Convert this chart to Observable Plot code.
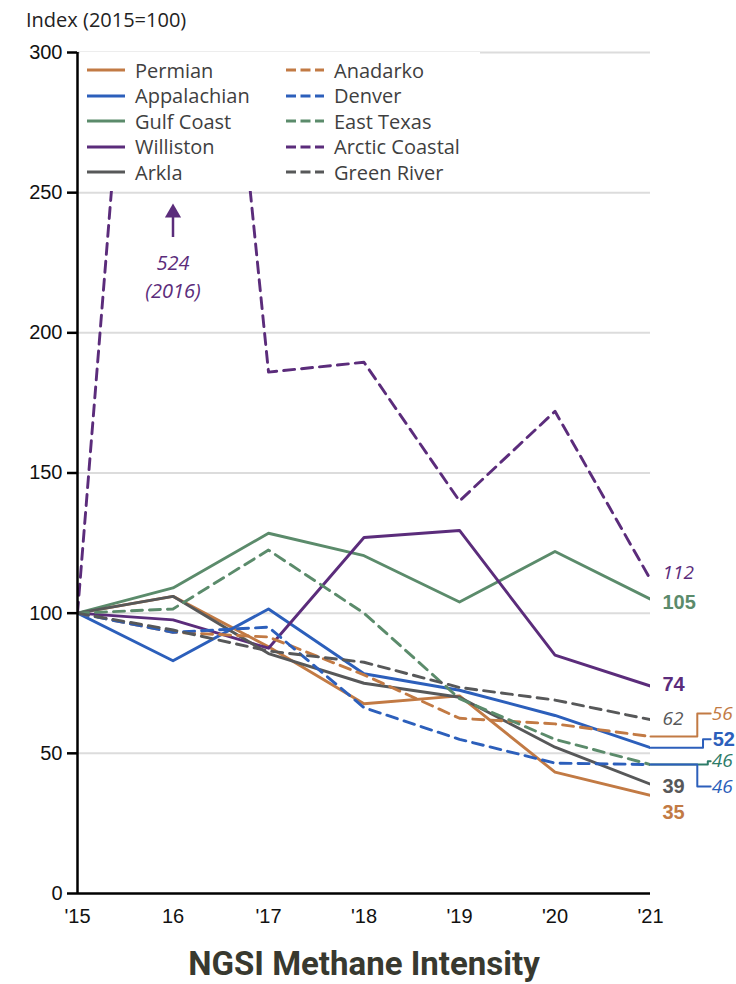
<!DOCTYPE html>
<html><head><meta charset="utf-8">
<script src="https://cdn.jsdelivr.net/npm/d3@7"></script>
<script src="https://cdn.jsdelivr.net/npm/@observablehq/plot@0.6"></script>
<style>
body{margin:0;background:#fff;width:736px;height:984px;position:relative;overflow:hidden;font-family:"Open Sans",sans-serif}
#chart{position:absolute;left:0;top:0}
#ylabel{position:absolute;left:26px;top:6px;font-size:20px;line-height:28px;color:#222}
#legend{position:absolute;left:80px;top:52px;width:400px;height:139px;background:#fff}
.lrow{position:absolute;height:26px;display:flex;align-items:center;font-size:20px;color:#3f3f3f;white-space:nowrap}
.lrow svg{margin-right:10px}
#title{position:absolute;left:0;top:945px;width:728px;text-align:center;font:700 33px Roboto,sans-serif;line-height:38px;color:#38392f}
</style></head>
<body>
<div id="chart"></div>
<div id="ylabel">Index (2015=100)</div>
<div id="legend"></div>
<div id="title">NGSI Methane Intensity</div>
<script>
const years = [2015, 2016, 2017, 2018, 2019, 2020, 2021];
const tickLabels = ["'15", "16", "'17", "'18", "'19", "'20", "'21"];
const yTicks = [0, 50, 100, 150, 200, 250, 300];
const basins = ["Permian", "Appalachian", "Gulf Coast", "Williston", "Arkla", "Anadarko", "Denver", "East Texas", "Arctic Coastal", "Green River"];
const permian       = [100, 106, 88, 67.7, 70.5, 43.3, 35];
const appalachian   = [100, 83, 101.5, 78.4, 72.5, 63.5, 52];
const gulfCoast     = [100, 109, 128.5, 120.5, 104, 122, 105];
const williston     = [100, 97.6, 87.5, 127, 129.5, 85, 74];
const arkla         = [100, 106, 85.6, 75, 70, 52.2, 39];
const anadarko      = [100, 93.2, 91.5, 78, 62.5, 60.5, 56];
const denver        = [100, 93.2, 95, 66.3, 55, 46.5, 46];
const eastTexas     = [100, 101.5, 122.5, 100, 69.5, 55, 46];
const arcticCoastal = [100, 524, 186, 189.5, 140, 172, 112];
const greenRiver    = [100, 94, 86.5, 82.5, 73.5, 69, 62];
const peakNote = {year: 2016, value: 524};

const values = [permian, appalachian, gulfCoast, williston, arkla, anadarko, denver, eastTexas, arcticCoastal, greenRiver];
const orange = "#c27a44", blue = "#2c5fbb", green = "#5b8b6b", purple = "#5b2c7b", gray = "#575859";
const colors = [orange, blue, green, purple, gray, orange, blue, green, purple, gray];
const dashed = [false, false, false, false, false, true, true, true, true, true];

// end labels: basin index, text, style
const endLabels = [
  {i: 8, text: "112", bold: false},
  {i: 2, text: "105", bold: true},
  {i: 3, text: "74", bold: true},
  {i: 9, text: "62", bold: false},
  {i: 5, text: "56", bold: false},
  {i: 1, text: "52", bold: true},
  {i: 7, text: "46", bold: false},
  {i: 6, text: "46", bold: false},
  {i: 4, text: "39", bold: true},
  {i: 0, text: "35", bold: true}
];
// layout for end labels (label y in data units, connector elbow offset in years)
const labelLayout = [
  {ly: 114.2, elbow: null, col: purple},
  {ly: 103.8, elbow: null, col: green},
  {ly: 74.6, elbow: null, col: purple},
  {ly: 62.4, elbow: null, col: gray},
  {ly: 64.2, elbow: 0.49, col: orange},
  {ly: 55.0, elbow: 0.55, col: blue},
  {ly: 47.2, elbow: 0.6, col: "#2e7c69"},
  {ly: 38.2, elbow: 0.49, col: blue},
  {ly: 38.2, elbow: null, col: gray},
  {ly: 28.9, elbow: null, col: orange}
];

const seriesMarks = values.map((vals, k) => Plot.line(
  years.map((y, j) => ({year: y, value: vals[j]})),
  {x: "year", y: "value", stroke: colors[k], strokeWidth: 2.9,
   strokeDasharray: dashed[k] ? "11,7" : null, clip: true}
));

const last = years[years.length - 1];
const tail = 0.63;
const labelData = endLabels.map((d, k) => ({...d, ...labelLayout[k], end: values[d.i][values[d.i].length - 1]}));
const connectorData = labelData.filter(d => d.elbow !== null).flatMap((d, k) => [
  {g: k, x: last, y: d.end, col: d.col},
  {g: k, x: last + d.elbow, y: d.end, col: d.col},
  {g: k, x: last + d.elbow, y: d.ly, col: d.col},
  {g: k, x: last + tail, y: d.ly, col: d.col}
]);
const free = labelData.filter(d => d.elbow === null);
const linked = labelData.filter(d => d.elbow !== null);
const boldFont = {fontWeight: "bold", fontSize: 20};
const italicFont = {fontStyle: "italic", fontFamily: "'Open Sans'", fontSize: 19};

const chart = Plot.plot({
  width: 736, height: 940,
  marginLeft: 77, marginRight: 86, marginTop: 52, marginBottom: 47,
  x: {domain: [2015, 2021]},
  y: {domain: [0, 300]},
  style: {fontFamily: "'Liberation Sans', Arial, sans-serif", fontSize: "20px", color: "#111", background: "white", overflow: "visible"},
  marks: [
    Plot.gridY(yTicks.filter(t => t > 0), {stroke: "#dcdcdc", strokeOpacity: 1, strokeWidth: 2}),
    Plot.axisY({ticks: yTicks, tickSize: 10, tickPadding: 5, label: null, strokeWidth: 2.5, stroke: "#000"}),
    Plot.axisX({ticks: years, tickSize: 0, tickPadding: 15, tickFormat: d => tickLabels[years.indexOf(d)], label: null}),
    ...seriesMarks,
    Plot.ruleY([0], {stroke: "#000", strokeWidth: 2.5}),
    Plot.ruleX([2015], {stroke: "#000", strokeWidth: 2.5}),
    Plot.line(connectorData, {x: "x", y: "y", z: "g", stroke: "col", strokeWidth: 2}),
    Plot.text(free.filter(d => d.bold), {x: () => last, y: "ly", text: "text", fill: "col", textAnchor: "start", dx: 12, ...boldFont}),
    Plot.text(free.filter(d => !d.bold), {x: () => last, y: "ly", text: "text", fill: "col", textAnchor: "start", dx: 12, ...italicFont}),
    Plot.text(linked.filter(d => d.bold), {x: () => last + tail, y: "ly", text: "text", fill: "col", textAnchor: "start", dx: 2, ...boldFont}),
    Plot.text(linked.filter(d => !d.bold), {x: () => last + tail, y: "ly", text: "text", fill: "col", textAnchor: "start", dx: 1, ...italicFont}),
    Plot.ruleX([peakNote], {x: "year", y1: 234, y2: 243, stroke: purple, strokeWidth: 2.5}),
    Plot.dot([peakNote], {x: "year", y: () => 242.8, symbol: "triangle", r: 6, fill: purple, stroke: "none"}),
    Plot.text([peakNote], {x: "year", y: () => 220.5, text: d => `${d.value}\n(${d.year})`, fill: purple, fontStyle: "italic", fontFamily: "'Open Sans'", fontSize: 20, lineHeight: 1.4})
  ]
});
document.getElementById("chart").appendChild(chart);

const legend = document.getElementById("legend");
basins.forEach((name, k) => {
  const col = k < 5 ? 0 : 1;
  const row = k % 5;
  const div = document.createElement("div");
  div.className = "lrow";
  div.style.left = (col === 0 ? 7 : 206) + "px";
  div.style.top = (5 + row * 25.5) + "px";
  div.innerHTML = `<svg width="38" height="6"><line x1="0" x2="38" y1="3" y2="3" stroke="${colors[k]}" stroke-width="3" ${dashed[k] ? 'stroke-dasharray="10,4.5"' : ''}/></svg><span>${name}</span>`;
  legend.appendChild(div);
});
</script>
</body></html>
